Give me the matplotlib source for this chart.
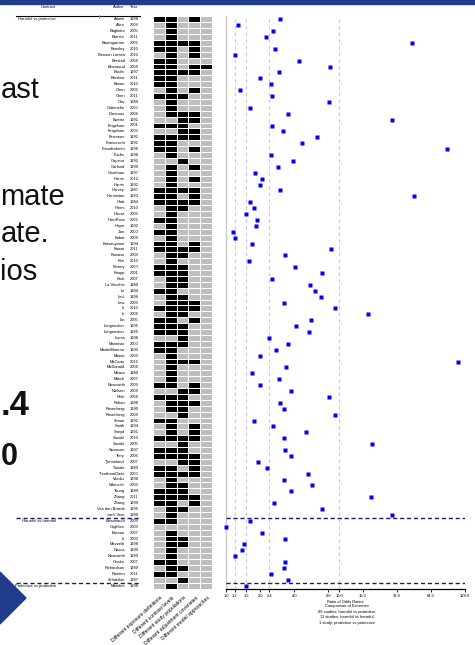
import numpy as np
import matplotlib.pyplot as plt
from matplotlib.colors import ListedColormap
from matplotlib.patches import Polygon, Rectangle

plt.rcParams['font.family'] = ['Liberation Sans', 'DejaVu Sans']

#### DATA ####
authors = ['Adami', 'Allen', 'Baglietto', 'Barnes', 'Baumgartner', 'Beasley', 'Benzon Larsen',
           'Berstad', 'Bessaoud', 'Boslin', 'Breslow', 'Brown', 'Chen', 'Chen', 'Chu', 'Cottenche',
           'Duneaux', 'Ewertz', 'Feigelson', 'Feigelson', 'Ferraroni', 'Franceschi', 'Freudenheim',
           'Fuchs', 'Gapstur', 'Garland', 'Goodman', 'Harris', 'Harris', 'Harvey', 'Hermiston',
           'Hiatt', 'Hines', 'House', 'HornRoss', 'Hoyer', 'Jain', 'Kabat', 'Katsouyanni', 'Kawai',
           'Kawase', 'Kim', 'Kinney', 'Knopp', 'Kruk', 'La Vecchia', 'Le', 'Levi', 'Lew', 'Li', 'Li',
           'Lin', 'Longnecker', 'Longnecker', 'Lucas', 'Mannisto', 'MartinMoreno', 'Maruti',
           'McCarty', 'McDonald', 'Meara', 'Morch', 'Newcomb', 'Nielsen', 'Petri', 'Rohan',
           'Rosenberg', 'Rosenberg', 'Simon', 'Smith', 'Sneyd', 'Suzuki', 'Suzuki', 'Swanson',
           'Terry', 'Tjonneland', 'Toniolo', 'TrenthamDietz', 'Viladiu', 'Wrensch', 'Young',
           'Zhang', 'Zhang', 'Van den Brandt', "van't Veer",
           'Bissonauth', 'Coghlan', 'Ericson', 'Li', 'Mezzetti', 'Nasca', 'Newcomb', 'Onaka',
           'Richardson', 'Romieu', 'Schatzkin',
           'Morales']
years = [1988, 2009, 2005, 2011, 2002, 2010, 2010, 2008, 2008, 1997, 2011, 2010, 2002, 2011, 1989,
         2000, 2004, 1991, 2001, 2003, 1991, 1991, 1996, 1996, 1992, 1999, 1997, 2012, 1992, 1987,
         1993, 1984, 2010, 2003, 2002, 1992, 2000, 2008, 1994, 2011, 2009, 2010, 2000, 2001, 2007,
         1989, 1984, 1996, 2009, 2010, 2008, 2005, 1995, 1995, 1998, 2000, 1993, 2009, 2012, 2004,
         1989, 2007, 2009, 2008, 2004, 1988, 1990, 2008, 1991, 1994, 1991, 2010, 2005, 1997, 2006,
         2007, 1989, 2000, 1996, 2003, 1989, 2011, 1999, 1995, 1989,
         2009, 2009, 2007, 2003, 1998, 1990, 1999, 2007, 1989, 2011, 1987,
         1996]
contrast_groups = ['Harmful vs protective', 'Harmful vs harmful', 'Protective vs protective']
group_sizes = [85, 11, 1]

# ratio of odds ratios, one per study (log2 axis)
ratio = [3.0, 1.28, 2.6, 2.25, 43.3, 2.69, 1.19, 4.36, 8.33, 2.96, 1.99, 2.49, 1.34, 2.53, 8.1,
         1.63, 3.53, 29.2, 2.53, 3.16, 6.34, 4.64, 88.6, 2.48, 3.86, 2.86, 1.81, 2.09, 1.99, 3.0,
         45.8, 1.64, 1.78, 1.49, 1.88, 1.85, 1.15, 1.19, 1.71, 8.5, 3.3, 1.61, 4.02, 7.07, 2.53,
         5.5, 6.09, 6.83, 3.23, 9.22, 17.9, 5.61, 4.1, 5.38, 2.39, 3.5, 2.74, 2.0, 111.0, 3.41,
         1.71, 2.92, 2.0, 3.73, 8.05, 3.02, 3.25, 9.16, 1.77, 2.58, 5.03, 3.23, 19.5, 3.32, 3.75,
         1.9, 2.31, 5.24, 3.23, 5.76, 3.75, 19.0, 2.65, 6.98, 29.2,
         1.64, 1.0, 2.09, 3.3, 1.44, 1.39, 1.21, 3.3, 3.25, 2.48, 3.5,
         1.49]

# sources of variation (B = yes, G = no)
variation = ['BBGBG', 'GBGGG', 'GBGGG', 'GBGGG', 'BBBBG', 'BBGBG', 'GBGBG', 'BBGGG', 'BBGBB',
             'BBBBG', 'BBGGG', 'BBGGG', 'GBGBG', 'BBBGG', 'GBGGG', 'GBGGG', 'GBBBG', 'GGBBG',
             'BBBGG', 'GGBBG', 'BBBBG', 'BBGGG', 'BBGBG', 'GBGGG', 'GGBGG', 'GBGBG', 'GBGGG',
             'GBGBG', 'GBGGG', 'BBBBG', 'BBGBG', 'BBBBG', 'GBBGG', 'GBGGG', 'BBGGG', 'GBGGG',
             'BBGGG', 'GBGGG', 'BBGBG', 'BBBBG', 'GBBGG', 'GBGGG', 'BBBGG', 'BBBGG', 'GBBGG',
             'GBBGG', 'BBGGG', 'GBBGG', 'GBBBG', 'BBBBG', 'GBBGG', 'BBGBG', 'BBBGG', 'BBBGG',
             'GGBGG', 'BBBGG', 'BBGGG', 'GBGGG', 'GBBBG', 'GBGGG', 'GBGGG', 'GBGGG', 'BBGBG',
             'GGBBG', 'BBBGG', 'GBBBG', 'GBBGG', 'GGBGG', 'BBGGG', 'GBGBG', 'GBGBG', 'BBBBG',
             'GGBGG', 'BBBGG', 'BBBBG', 'GGBBG', 'BBGBG', 'BBBBG', 'GBGGG', 'GBBGG', 'BBBGG',
             'BBBBG', 'BBGBG', 'GBBGG', 'GBGGG',
             'BBGGG', 'GGGGG', 'GBGGG', 'GBBGG', 'GBBGG', 'GBGGG', 'GBGGG', 'BBGGG', 'GBBGG',
             'BBGGG', 'GGBGG',
             'GBGGG']
variation_labels = ['Different exposure definitions', 'Different contrast levels',
                    'Different study populations', 'Different adjustment covariates',
                    'Different model approaches']

xticks = [1.0, 1.2, 1.5, 2.0, 2.4, 4.0, 8.0, 10.0, 16.0, 32.0, 64.0, 128.0]
ref_lines = [1.2, 1.5, 2.4, 10.0]
caption = ['Comparison of Extremes', '86 studies: harmful vs protective',
           '11 studies: harmful vs harmful', '1 study: protective vs protective']

# fragments of the slide behind the chart
slide_text = ['ast', 'mate', 'ate.', 'ios']
slide_bold = ['.4', '0']

#### LAYOUT (pixels) ####
W, H = 475, 645
fs = 2.9
row0, pitch = 19.3, 5.9
n = len(ratio)
top = row0 - pitch / 2
bot = row0 + pitch * (n - 0.5)


def box(x0, x1):
    return [x0 / W, 1 - bot / H, (x1 - x0) / W, (bot - top) / H]


fig = plt.figure(figsize=(W / 100, H / 100), dpi=100)
fig.patch.set_facecolor('white')

# slide decoration
fig.patches.append(Rectangle((0, 1 - 3.5 / H), 1, 3.5 / H, transform=fig.transFigure,
                             color='#1f3d8b', zorder=0))
for t, yb in zip(slide_text, [98, 205, 242, 280]):
    fig.text(0.5 / W, 1 - yb / H, t, fontsize=21, color='#111111', va='baseline')
fig.text(0.5 / W, 1 - 415 / H, slide_bold[0], fontsize=25, fontweight='bold', color='#111111',
         va='baseline')
fig.text(0.5 / W, 1 - 465 / H, slide_bold[1], fontsize=22, fontweight='bold', color='#111111',
         va='baseline')
fig.patches.append(Polygon([(0, 1 - 572 / H), (26 / W, 1 - 598 / H), (0, 1 - 624 / H)],
                           closed=True, transform=fig.transFigure, color='#1f3d8b'))

rows = np.arange(n)
bounds = np.cumsum(group_sizes)[:-1] - 0.5
starts = np.concatenate([[0], np.cumsum(group_sizes)[:-1]])

# labels
axl = fig.add_axes(box(0, 150))
axl.set_xlim(0, 150)
axl.set_ylim(n - 0.5, -0.5)
axl.axis('off')
for i in rows:
    axl.text(125, i, authors[i], fontsize=fs, ha='right', va='center')
    axl.text(129.7, i, str(years[i]), fontsize=fs, ha='left', va='center')
for g, s in zip(contrast_groups, starts):
    axl.text(56, s, g, fontsize=fs, ha='right', va='center')
axl.hlines(bounds, 16, 140, color='#1a1a6e', lw=1.0, ls=(0, (3, 2)))
axl.plot([16, 140], [-0.5, -0.5], color='black', lw=0.8, clip_on=False)
axl.plot([99, 99], [-0.78, -0.22], color='#888888', lw=0.6, clip_on=False)
axl.text(48, -2.1, 'Contrast', fontsize=fs, ha='center', va='center')
axl.text(125, -2.1, 'Author', fontsize=fs, ha='right', va='center')
axl.text(129.7, -2.1, 'Year', fontsize=fs, ha='left', va='center')

# matrix of variation sources
axm = fig.add_axes(box(153, 212))
vals = np.array([[1 if c == 'B' else 0 for c in r] for r in variation])
axm.pcolormesh(np.arange(6), np.arange(n + 1) - 0.5, vals,
               cmap=ListedColormap(['#bebebe', '#000000']), edgecolors='white', linewidth=0.6)
axm.set_ylim(n - 0.5, -0.5)
axm.set_xlim(0, 5)
axm.axis('off')
for j, lab in enumerate(variation_labels):
    axm.text(j + 0.6, n + 0.6, lab, fontsize=3.6, rotation=42, ha='right', va='top',
             rotation_mode='anchor')

# ratio plot
ax = fig.add_axes(box(226, 465))
ax.set_xscale('log', base=2)
ax.set_xlim(1, 128)
ax.set_ylim(n - 0.5, -0.5)
ax.axvline(1, color='#c8c8c8', lw=1, clip_on=False, zorder=1)
for v in ref_lines:
    ax.axvline(v, color='#c4c4f2', lw=0.8, ls=(0, (3, 3)), zorder=1)
for b in bounds:
    ax.axhline(b, color='#1a1a6e', lw=1.0, ls=(0, (3, 2)))
ax.plot(ratio, rows, 's', color='#0000ff', ms=2.2, mec='none', clip_on=False, zorder=3)
for s in ['top', 'right', 'left']:
    ax.spines[s].set_visible(False)
ax.spines['bottom'].set_linewidth(0.9)
ax.set_xticks(xticks)
ax.set_xticklabels(['%.1f' % v for v in xticks])
ax.minorticks_off()
ax.tick_params(axis='x', labelsize=fs, length=2.5, width=0.6, pad=1.5)
ax.set_yticks([])
ax.set_xlabel('Ratio of Odds Ratios', fontsize=fs, labelpad=1.5)
for k, line in enumerate(caption):
    fig.text(347 / W, 1 - (606.3 + 5.6 * k) / H, line, fontsize=fs, ha='center', va='center')

fig.savefig('out.png', dpi=100)
